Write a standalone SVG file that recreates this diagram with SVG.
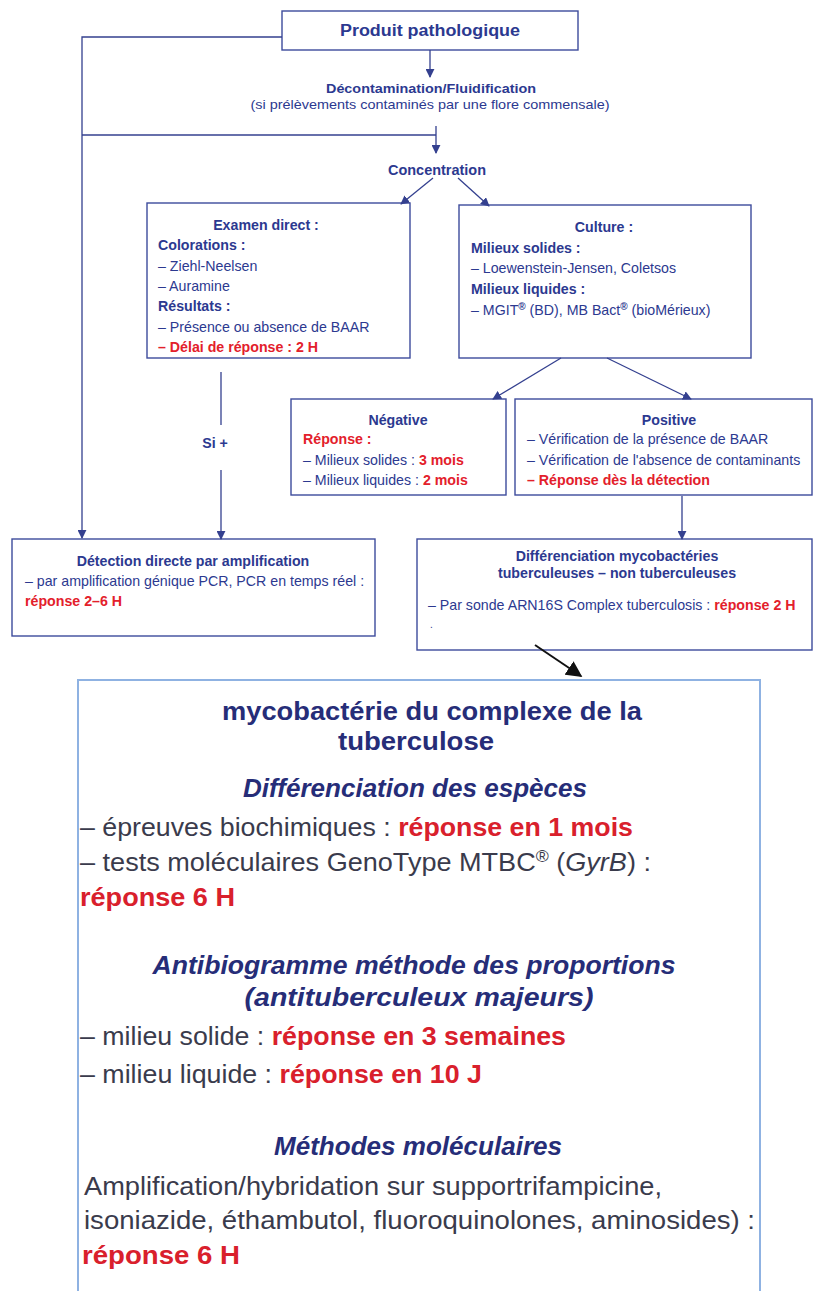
<svg xmlns="http://www.w3.org/2000/svg" width="816" height="1291" viewBox="0 0 816 1291">
  <defs>
    <marker id="arr" viewBox="0 0 10 10" refX="9" refY="5" markerWidth="9" markerHeight="9" markerUnits="userSpaceOnUse" orient="auto">
      <path d="M0,0 L10,5 L0,10 z" fill="#34408f"/>
    </marker>
    <marker id="arrBlack" viewBox="0 0 10 10" refX="9" refY="5" markerWidth="16" markerHeight="16" markerUnits="userSpaceOnUse" orient="auto">
      <path d="M0,0 L10,5 L0,10 z" fill="#111"/>
    </marker>
    <style>
      text { font-family: "Liberation Sans", Arial, Helvetica, sans-serif; }
      .box { fill: #fff; stroke: #3d4b9c; stroke-width: 1.4; }
      .big { fill: #fff; stroke: #8fb2e2; stroke-width: 2; }
      .con { fill: none; stroke: #34408f; stroke-width: 1.3; }
      .t { fill: #2c3990; font-size: 14.2px; }
      .b { font-weight: bold; }
      .red { fill: #e3202b; font-weight: bold; }
      .mid { text-anchor: middle; }
      .h { fill: #262d78; font-size: 26px; font-weight: bold; }
      .hi { fill: #262d78; font-size: 26px; font-weight: bold; font-style: italic; }
      .body { fill: #3a3b4c; font-size: 26px; }
      .rb { fill: #d9202c; font-weight: bold; }
    </style>
  </defs>
  <rect width="816" height="1291" fill="#fff"/>

  <g id="produit">
    <rect class="box" x="282" y="11" width="296" height="39"/>
    <text class="t b mid" x="430" y="36" style="font-size:16px" textLength="180" lengthAdjust="spacingAndGlyphs">Produit pathologique</text>
  </g>

  <g id="decontamination">
    <text class="t b mid" x="431" y="93" style="font-size:13px" textLength="210" lengthAdjust="spacingAndGlyphs">Décontamination/Fluidification</text>
    <text class="t mid" x="430" y="109" style="font-size:13px" textLength="359" lengthAdjust="spacingAndGlyphs">(si prélèvements contaminés par une flore commensale)</text>
  </g>

  <g id="concentration">
    <text class="t b mid" x="437" y="175" style="font-size:14px" textLength="98" lengthAdjust="spacingAndGlyphs">Concentration</text>
  </g>

  <g id="examen">
    <rect class="box" x="147" y="203" width="263" height="155"/>
    <text class="t b mid" x="266" y="230">Examen direct :</text>
    <text class="t b" x="158" y="250">Colorations :</text>
    <text class="t" x="158" y="271">– Ziehl-Neelsen</text>
    <text class="t" x="158" y="291">– Auramine</text>
    <text class="t b" x="158" y="311">Résultats :</text>
    <text class="t" x="158" y="332">– Présence ou absence de BAAR</text>
    <text class="t red" x="158" y="352">– Délai de réponse : 2 H</text>
  </g>

  <g id="culture">
    <rect class="box" x="459" y="205" width="292" height="153"/>
    <text class="t b mid" x="604" y="232">Culture :</text>
    <text class="t b" x="471" y="253">Milieux solides :</text>
    <text class="t" x="471" y="273">– Loewenstein-Jensen, Coletsos</text>
    <text class="t b" x="471" y="294">Milieux liquides :</text>
    <text class="t" x="471" y="315">– MGIT<tspan class="b" style="font-size:10px" dy="-5">®</tspan><tspan dy="5"> (BD), MB Bact</tspan><tspan class="b" style="font-size:10px" dy="-5">®</tspan><tspan dy="5"> (bioMérieux)</tspan></text>
  </g>

  <g id="negative">
    <rect class="box" x="291" y="399" width="215" height="96"/>
    <text class="t b mid" x="398" y="425">Négative</text>
    <text class="t red" x="303" y="444">Réponse :</text>
    <text class="t" x="303" y="465">– Milieux solides : <tspan class="red">3 mois</tspan></text>
    <text class="t" x="303" y="485">– Milieux liquides : <tspan class="red">2 mois</tspan></text>
  </g>

  <g id="positive">
    <rect class="box" x="515" y="399" width="297" height="96"/>
    <text class="t b mid" x="669" y="425">Positive</text>
    <text class="t" x="527" y="444">– Vérification de la présence de BAAR</text>
    <text class="t" x="527" y="465">– Vérification de l'absence de contaminants</text>
    <text class="t red" x="527" y="485">– Réponse dès la détection</text>
  </g>

  <g id="detection">
    <rect class="box" x="12" y="539" width="363" height="97"/>
    <text class="t b mid" x="193" y="566">Détection directe par amplification</text>
    <text class="t" x="25" y="586">– par amplification génique PCR, PCR en temps réel :</text>
    <text class="t red" x="25" y="606">réponse 2–6 H</text>
  </g>

  <g id="differenciation">
    <rect class="box" x="417" y="539" width="395" height="111"/>
    <text class="t b mid" x="617" y="561">Différenciation mycobactéries</text>
    <text class="t b mid" x="617" y="578">tuberculeuses – non tuberculeuses</text>
    <text class="t" x="428" y="610">– Par sonde ARN16S Complex tuberculosis : <tspan class="red">réponse 2 H</tspan></text>
    <text class="t" x="430" y="628" style="font-size:10px">.</text>
  </g>

  <g id="complexe">
    <rect class="big" x="78" y="680" width="682" height="640"/>
    <text class="h mid" x="432" y="720" textLength="420" lengthAdjust="spacingAndGlyphs">mycobactérie du complexe de la</text>
    <text class="h mid" x="416" y="750" textLength="156" lengthAdjust="spacingAndGlyphs">tuberculose</text>
    <text class="hi mid" x="415" y="797" textLength="344" lengthAdjust="spacingAndGlyphs">Différenciation des espèces</text>
    <text class="body" x="80" y="836" textLength="553" lengthAdjust="spacingAndGlyphs">– épreuves biochimiques : <tspan class="rb">réponse en 1 mois</tspan></text>
    <text class="body" x="80" y="871" textLength="571" lengthAdjust="spacingAndGlyphs">– tests moléculaires GenoType MTBC<tspan style="font-size:17px" dy="-9">®</tspan><tspan dy="9"> (</tspan><tspan font-style="italic">GyrB</tspan>) :</text>
    <text class="body rb" x="80" y="906" textLength="155" lengthAdjust="spacingAndGlyphs">réponse 6 H</text>
    <text class="hi mid" x="414" y="974" textLength="523" lengthAdjust="spacingAndGlyphs">Antibiogramme méthode des proportions</text>
    <text class="hi mid" x="419" y="1006" textLength="349" lengthAdjust="spacingAndGlyphs">(antituberculeux majeurs)</text>
    <text class="body" x="80" y="1045" textLength="486" lengthAdjust="spacingAndGlyphs">– milieu solide : <tspan class="rb">réponse en 3 semaines</tspan></text>
    <text class="body" x="80" y="1083" textLength="402" lengthAdjust="spacingAndGlyphs">– milieu liquide : <tspan class="rb">réponse en 10 J</tspan></text>
    <text class="hi mid" x="418" y="1155" textLength="288" lengthAdjust="spacingAndGlyphs">Méthodes moléculaires</text>
    <text class="body" x="84" y="1195" textLength="578" lengthAdjust="spacingAndGlyphs">Amplification/hybridation sur supportrifampicine,</text>
    <text class="body" x="84" y="1229" textLength="671" lengthAdjust="spacingAndGlyphs">isoniazide, éthambutol, fluoroquinolones, aminosides) :</text>
    <text class="body rb" x="82" y="1264" textLength="158" lengthAdjust="spacingAndGlyphs">réponse 6 H</text>
  </g>

  <!-- connectors, drawn over the boxes -->
  <g id="connectors">
    <polyline class="con" points="282,37 82,37 82,538" marker-end="url(#arr)"/>
    <line class="con" x1="430" y1="50" x2="430" y2="77" marker-end="url(#arr)"/>
    <line class="con" x1="82" y1="135" x2="436" y2="135"/>
    <line class="con" x1="436" y1="126" x2="436" y2="153" marker-end="url(#arr)"/>
    <line class="con" x1="433" y1="178" x2="401" y2="204" marker-end="url(#arr)"/>
    <line class="con" x1="458" y1="178" x2="489" y2="206" marker-end="url(#arr)"/>
    <line class="con" x1="561" y1="358" x2="493" y2="399" marker-end="url(#arr)"/>
    <line class="con" x1="607" y1="358" x2="691" y2="399" marker-end="url(#arr)"/>
    <line class="con" x1="221" y1="372" x2="221" y2="425"/>
    <line class="con" x1="221" y1="470" x2="221" y2="539" marker-end="url(#arr)"/>
    <line class="con" x1="682" y1="496" x2="682" y2="539" marker-end="url(#arr)"/>
    <line x1="535" y1="645" x2="581" y2="676" stroke="#111" stroke-width="2" marker-end="url(#arrBlack)"/>
    <text class="t b mid" x="215" y="448">Si +</text>
  </g>
</svg>
